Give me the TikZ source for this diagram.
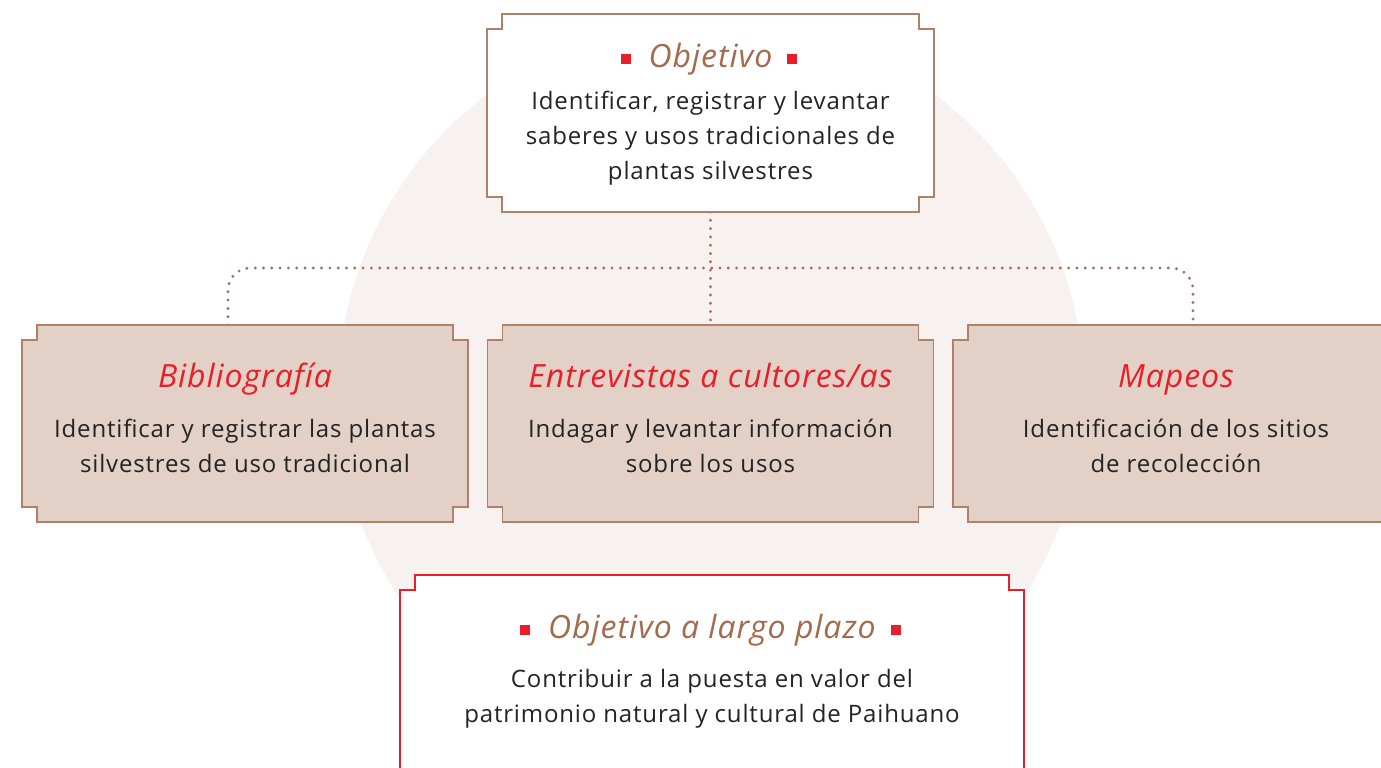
\documentclass[tikz,border=0pt]{standalone}
\usepackage{fontspec}
\setmainfont{Open Sans}
\usetikzlibrary{positioning, calc}
\definecolor{framebrown}{RGB}{176,128,104}
\definecolor{titlebrown}{RGB}{163,106,76}
\definecolor{signalred}{RGB}{232,30,40}
\definecolor{boxtan}{RGB}{227,208,198}
\definecolor{discpink}{RGB}{247,241,239}
\definecolor{inkgray}{RGB}{35,35,35}

% notched outline round a named box node
\newcommand{\notchframe}[2]{%
  \draw[#2] ([xshift=15pt]#1.north west) -- ([xshift=-15pt]#1.north east)
    -- ++(0,-15pt) -- ++(15pt,0) -- ([yshift=15pt]#1.south east)
    -- ++(-15pt,0) -- ++(0,-15pt) -- ([xshift=15pt]#1.south west)
    -- ++(0,15pt) -- ++(-15pt,0) -- ([yshift=-15pt]#1.north west)
    -- ++(15pt,0) -- cycle;}

\begin{document}
\begin{tikzpicture}[x=1pt, y=-1pt,
  box/.style={rectangle, inner sep=0, outer sep=0, minimum width=446pt, minimum height=197pt},
  headtxt/.style={font=\fontsize{32}{38}\selectfont\itshape\addfontfeatures{LetterSpace=3}, inner sep=0, anchor=base},
  bodytxt/.style={font=\fontsize{24}{35}\selectfont\addfontfeatures{LetterSpace=3.5}, text=inkgray, align=center, inner sep=0},
  sq/.style={rectangle, fill=signalred, minimum size=10pt, inner sep=0},
  conn/.style={draw=framebrown!90!black, line width=3.2pt, line cap=round, dash pattern=on 0pt off 8.3pt}]
\clip (0,0) rectangle (1381,768);
\fill[white] (0,0) rectangle (1381,768);

% background disc
\fill[discpink] (711,393) circle (373pt);

% boxes
\node[box, minimum width=447pt, minimum height=198pt] (obj) at (710.5,113) {};
\node[box] (bib) at (245,423.5) {};
\node[box] (ent) at (710.5,423.5) {};
\node[box] (map) at (1176,423.5) {};
\node[box, minimum width=624pt, minimum height=210pt] (goal) at (712,680) {};

% connectors
\coordinate (hub) at (711,268);
\draw[conn] (obj.south) -- (ent.north);
\draw[conn, rounded corners=22pt] ([xshift=-17pt]bib.north) |- (hub) -| ([xshift=17pt]map.north);

\notchframe{obj}{draw=framebrown, line width=1.5pt, fill=white}
\notchframe{bib}{draw=framebrown, line width=1.5pt, fill=boxtan}
\notchframe{ent}{draw=framebrown, line width=1.5pt, fill=boxtan}
\notchframe{map}{draw=framebrown, line width=1.5pt, fill=boxtan}
\notchframe{goal}{draw=signalred, line width=1.5pt, fill=white}

% top box
\node[headtxt, text=titlebrown] (objhead) at ([yshift=-53pt]obj.north) {Objetivo};
\node[sq, left=17pt of objhead.west] (objsqa) {};
\node[sq, right=14pt of objhead.east] (objsqb) {};
\node[bodytxt] (objbody) at ([yshift=-124pt]obj.north) {Identificar, registrar y levantar\\saberes y usos tradicionales de\\plantas silvestres};

% middle row
\node[headtxt, text=signalred] (bibhead) at ([yshift=-62pt]bib.north) {Bibliografía};
\node[bodytxt] (bibbody) at ([yshift=-121pt]bib.north) {Identificar y registrar las plantas\\silvestres de uso tradicional};
\node[headtxt, text=signalred] (enthead) at ([yshift=-62pt]ent.north) {Entrevistas a cultores/as};
\node[bodytxt] (entbody) at ([yshift=-121pt]ent.north) {Indagar y levantar información\\sobre los usos};
\node[headtxt, text=signalred] (maphead) at ([yshift=-62pt]map.north) {Mapeos};
\node[bodytxt] (mapbody) at ([yshift=-121pt]map.north) {Identificación de los sitios\\de recolección};

% bottom box
\node[headtxt, text=titlebrown] (goalhead) at ([yshift=-63pt]goal.north) {Objetivo a largo plazo};
\node[sq, left=18pt of goalhead.west] (goalsqa) {};
\node[sq, right=15pt of goalhead.east] (goalsqb) {};
\node[bodytxt] (goalbody) at ([yshift=-124pt]goal.north) {Contribuir a la puesta en valor del\\patrimonio natural y cultural de Paihuano};
\end{tikzpicture}
\end{document}
